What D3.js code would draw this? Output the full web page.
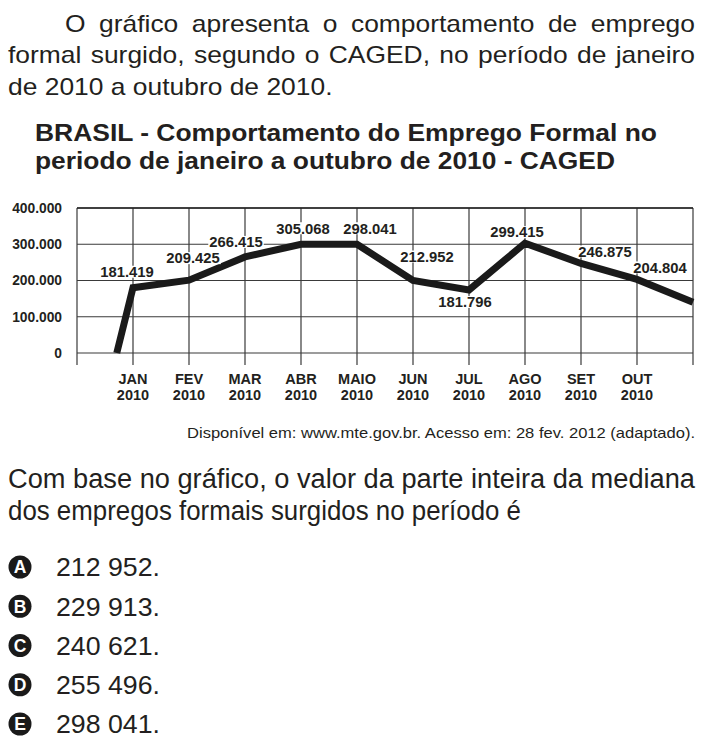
<!DOCTYPE html>
<html><head><meta charset="utf-8">
<script src="https://cdn.jsdelivr.net/npm/d3@7"></script>
<style>
html,body{margin:0;padding:0;background:#fff;}
svg{display:block;}
text{font-family:"Liberation Sans",Arial,Helvetica,sans-serif;fill:#231f20;}
.narrow{font-family:"Liberation Sans Narrow","Liberation Sans",Arial,sans-serif;}
</style>
</head><body>
<svg id="c" width="705" height="748"></svg>
<script>
// ---- data ----
const months = ["JAN","FEV","MAR","ABR","MAIO","JUN","JUL","AGO","SET","OUT"];
const years = ["2010","2010","2010","2010","2010","2010","2010","2010","2010","2010"];
const valueLabels = ["181.419","209.425","266.415","305.068","298.041","212.952","181.796","299.415","246.875","204.804"];
// values as drawn by the line in the picture (index 0 = left border, 1 = JAN ... 11 = right border)
const lineIndex = [0.71, 1, 2, 3, 4, 5, 6, 7, 8, 9, 10, 11];
const lineValues = [0, 180000, 201000, 265000, 300000, 300000, 200000, 174000, 303000, 247000, 203000, 140000];
const yTicks = [0, 100000, 200000, 300000, 400000];
const yTickLabels = ["0","100.000","200.000","300.000","400.000"];
const options = ["A","B","C","D","E"];
const optionTexts = ["212 952.","229 913.","240 621.","255 496.","298 041."];

// label placement offsets (px) relative to the point
const labelOffsets = [[-6,-16],[4,-22],[-9,-15],[2,-16],[13,-16],[14,-24],[-4,12],[-8,-11],[24,-12],[23,-12]];

const svg = d3.select("#c");

// ---- justified paragraph ----
const PSTRETCH = 1.1;
function justifyLine(words, x0, x1, y, size, justify){
  const g = svg.append("g");
  const nodes = words.map(w => g.append("text").attr("y", y).attr("font-size", size).text(w));
  const widths = nodes.map(n => n.node().getComputedTextLength()*PSTRETCH);
  nodes.forEach((n,i)=>n.attr("textLength", widths[i]).attr("lengthAdjust","spacingAndGlyphs"));
  const total = d3.sum(widths);
  const spaceNat = size*0.278*PSTRETCH;
  const gap = justify ? (x1 - x0 - total)/(words.length-1) : spaceNat;
  let x = x0;
  nodes.forEach((n,i)=>{ n.attr("x", x); x += widths[i] + gap; });
}
justifyLine("O gráfico apresenta o comportamento de emprego".split(" "), 65, 695, 32, 24, true);
justifyLine("formal surgido, segundo o CAGED, no período de janeiro".split(" "), 8, 695, 63, 24, true);
justifyLine("de 2010 a outubro de 2010.".split(" "), 8, 695, 95, 24, false);

// ---- chart title ----
svg.append("text").attr("x",35).attr("y",141).attr("font-size",23).attr("font-weight","bold")
  .attr("textLength",622).attr("lengthAdjust","spacingAndGlyphs")
  .text("BRASIL - Comportamento do Emprego Formal no");
svg.append("text").attr("x",35).attr("y",169).attr("font-size",23).attr("font-weight","bold")
  .attr("textLength",580).attr("lengthAdjust","spacingAndGlyphs")
  .text("periodo de janeiro a outubro de 2010 - CAGED");

// ---- chart ----
const x = d3.scaleLinear().domain([0,11]).range([77,693]);
const y = d3.scaleLinear().domain([0,400000]).range([353,208]);

const grid = svg.append("g");
grid.selectAll("line.h").data(yTicks).join("line")
  .attr("x1", x(0)).attr("x2", x(11))
  .attr("y1", d=>y(d)).attr("y2", d=>y(d))
  .attr("stroke","#3a3a3a").attr("stroke-width",1.2);
grid.selectAll("line.v").data(d3.range(0,12)).join("line")
  .attr("x1", d=>x(d)).attr("x2", d=>x(d))
  .attr("y1", y(400000)).attr("y2", y(0)+12)
  .attr("stroke","#3a3a3a").attr("stroke-width",1.2);
grid.append("line").attr("x1",x(0)).attr("x2",x(11)).attr("y1",y(400000)).attr("y2",y(400000))
  .attr("stroke","#222").attr("stroke-width",1.5);

svg.append("g").selectAll("text").data(yTicks).join("text")
  .attr("x", 62).attr("y", d=>y(d)).attr("dy","0.36em")
  .attr("text-anchor","end").attr("font-size",13.8).attr("font-weight","bold")
  .text((d,i)=>yTickLabels[i]);

const mg = svg.append("g");
mg.selectAll("text.m").data(months).join("text")
  .attr("x",(d,i)=>x(i+1)).attr("y",384).attr("text-anchor","middle")
  .attr("font-size",14.5).attr("font-weight","bold").text(d=>d);
mg.selectAll("text.yr").data(years).join("text").attr("class","yr")
  .attr("x",(d,i)=>x(i+1)).attr("y",400).attr("text-anchor","middle")
  .attr("font-size",14.5).attr("font-weight","bold").text(d=>d);

const pts = lineIndex.map((d,i)=>[d, lineValues[i]]);
svg.append("path").datum(pts)
  .attr("d", d3.line().x(d=>x(d[0])).y(d=>y(d[1])))
  .attr("fill","none").attr("stroke","#1a1a1a").attr("stroke-width",7)
  .attr("stroke-linejoin","miter").attr("stroke-linecap","butt");

const lg = svg.append("g");
valueLabels.forEach((t,i)=>{
  const cx = x(lineIndex[i+1]) + labelOffsets[i][0];
  const cy = y(lineValues[i+1]) + labelOffsets[i][1];
  const txt = lg.append("text").attr("x",cx).attr("y",cy).attr("dy","0.36em")
    .attr("text-anchor","middle").attr("font-size",14.8).attr("font-weight","bold").text(t);
  const bb = txt.node().getBBox();
  lg.insert("rect","text").attr("x",bb.x-1).attr("y",cy-6).attr("width",bb.width+2).attr("height",12).attr("fill","#fff");
});

svg.append("text").attr("class","narrow").attr("x",695).attr("y",438).attr("text-anchor","end")
  .attr("font-size",15).attr("textLength",508).attr("lengthAdjust","spacingAndGlyphs")
  .text("Disponível em: www.mte.gov.br. Acesso em: 28 fev. 2012 (adaptado).");

svg.append("text").attr("class","narrow").attr("x",8).attr("y",488).attr("font-size",27)
  .attr("textLength",687).attr("lengthAdjust","spacingAndGlyphs")
  .text("Com base no gráfico, o valor da parte inteira da mediana");
svg.append("text").attr("class","narrow").attr("x",8).attr("y",520).attr("font-size",27)
  .attr("textLength",513).attr("lengthAdjust","spacingAndGlyphs")
  .text("dos empregos formais surgidos no período é");

const oy = d3.scalePoint().domain(options).range([567,724]);
const og = svg.append("g");
options.forEach((o,i)=>{
  const cy = oy(o);
  og.append("circle").attr("cx",20).attr("cy",cy).attr("r",11.5).attr("fill","#1a1a1a");
  og.append("text").attr("x",20).attr("y",cy).attr("dy","0.37em").attr("text-anchor","middle")
    .attr("font-size",17.5).attr("font-weight","900").style("fill","#fff").text(o);
  og.append("text").attr("x",56).attr("y",cy).attr("dy","0.36em").attr("font-size",26)
    .attr("textLength",104).attr("lengthAdjust","spacingAndGlyphs").text(optionTexts[i]);
});
</script>
</body></html>
